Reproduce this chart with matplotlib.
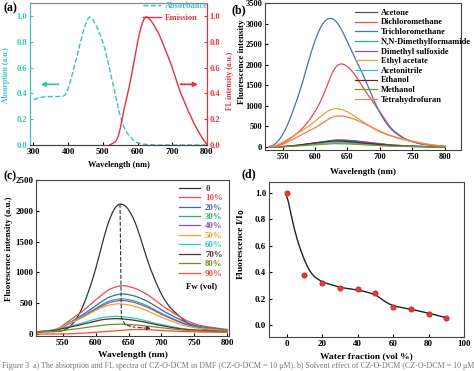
import numpy as np
import matplotlib.pyplot as plt

# ---- panel (a): absorption / emission (normalised) ----
abs_wl = [300, 310, 320, 340, 360, 380, 390, 400, 410, 420, 430, 440, 450, 460, 470, 480, 490,
          500, 510, 520, 530, 540, 550, 560, 570, 580, 590, 600, 620, 650, 700, 800]
abs_val = [0.35, 0.36, 0.37, 0.375, 0.375, 0.375, 0.38, 0.43, 0.53, 0.63, 0.74, 0.85, 0.94, 1.0, 0.98,
           0.93, 0.87, 0.8, 0.7, 0.58, 0.46, 0.34, 0.22, 0.14, 0.09, 0.06, 0.03, 0.015, 0.005, 0.0, 0.0, 0.0]
em_wl = [520, 540, 550, 560, 570, 580, 590, 600, 610, 620, 625, 640, 660, 680, 700, 720, 740, 760, 780, 800]
em_val = [0.0, 0.03, 0.12, 0.27, 0.38, 0.5, 0.65, 0.8, 0.92, 0.99, 1.0, 0.96, 0.87, 0.74, 0.6, 0.43,
          0.3, 0.18, 0.08, 0.0]

# ---- panel (b): solvent effect ----
wl_b = [530, 540, 550, 560, 570, 580, 590, 600, 610, 620, 630, 640, 650, 660, 670, 680, 690, 700,
        710, 720, 740, 760, 780, 800]
tcm = [0, 60, 280, 600, 1050, 1500, 2100, 2600, 2980, 3150, 3120, 2900, 2550, 2200, 1900, 1550,
       1150, 820, 560, 380, 170, 80, 35, 15]
dcm = [0, 20, 80, 180, 300, 430, 620, 850, 1130, 1550, 1950, 2050, 1970, 1800, 1550, 1300, 1080,
       870, 600, 400, 180, 85, 40, 15]
ea = [0, 20, 120, 200, 300, 400, 500, 620, 760, 880, 943, 920, 860, 760, 650, 550, 450, 360,
      300, 260, 180, 110, 50, 20]
thf = [0, 15, 50, 140, 220, 300, 380, 460, 560, 680, 750, 760, 730, 680, 610, 540, 460, 380,
       310, 250, 160, 100, 45, 15]
# shape of the weak emitters (normalised), plus their peak heights / positions
small_off = [-90, -80, -70, -60, -50, -40, -30, -20, -10, 0, 10, 20, 30, 40, 50, 60, 70, 90, 110, 130, 150, 170]
small_prof = [0.0, 0.05, 0.12, 0.22, 0.35, 0.48, 0.62, 0.75, 0.9, 1.0, 0.98, 0.93, 0.84, 0.73,
              0.62, 0.5, 0.4, 0.24, 0.13, 0.07, 0.03, 0.01]
small_names = ["Acetone", "N,N-Dimethylformamide", "Dimethyl sulfoxide", "Acetonitrile", "Ethanol", "Methanol"]
small_peak = [170, 120, 165, 105, 145, 80]
small_pos = [635, 630, 632, 625, 628, 628]

# ---- panel (c): water fraction series ----
wl_c0 = [510, 530, 540, 550, 560, 570, 580, 590, 600, 610, 620, 630, 637, 645, 650, 660, 670, 680,
         690, 700, 710, 720, 740, 760, 780, 800]
fw0 = [40, 40, 42, 50, 110, 230, 430, 715, 1050, 1480, 1850, 2080, 2125, 2090, 2030, 1830, 1500,
       1150, 880, 640, 470, 360, 170, 90, 50, 30]
c_off = [-130, -100, -80, -60, -40, -20, 0, 20, 40, 60, 80, 100, 120, 160]
c_prof = [0.0, 0.05, 0.25, 0.45, 0.7, 0.92, 1.0, 0.93, 0.78, 0.56, 0.38, 0.22, 0.13, 0.05]
fw_labels = ["10%", "20%", "30%", "40%", "50%", "60%", "70%", "80%"]
fw_peak = [797, 661, 580, 553, 499, 293, 255, 163]
fw_pos = [641, 641, 639, 639, 635, 630, 630, 636]
c_base = 35
wl_90 = [510, 560, 580, 600, 620, 640, 660, 680, 700, 720, 740, 760, 800]
fw90 = [0, 5, 15, 30, 48, 65, 76, 72, 60, 48, 40, 35, 28]

# ---- panel (d): I/I0 vs water fraction ----
water = [0, 10, 20, 30, 40, 50, 60, 70, 80, 90]
ratio = [1.0, 0.375, 0.32, 0.28, 0.27, 0.24, 0.14, 0.12, 0.085, 0.055]
fit_x = [0, 2, 4, 6, 8, 10, 12, 15, 20, 30, 40, 45, 50, 55, 60, 70, 80, 90]
fit_y = [1.0, 0.86, 0.74, 0.64, 0.56, 0.49, 0.43, 0.37, 0.325, 0.285, 0.265, 0.25, 0.23, 0.18,
         0.145, 0.12, 0.09, 0.055]

plt.rcParams['font.family'] = ['Liberation Serif', 'DejaVu Serif']
plt.rcParams['font.weight'] = 'bold'
plt.rcParams['axes.labelweight'] = 'bold'
plt.rcParams['font.size'] = 6.5
plt.rcParams['xtick.direction'] = 'in'
plt.rcParams['ytick.direction'] = 'in'
plt.rcParams['xtick.major.size'] = 2.5
plt.rcParams['ytick.major.size'] = 2.5
plt.rcParams['xtick.major.pad'] = 2
plt.rcParams['ytick.major.pad'] = 2
plt.rcParams['axes.linewidth'] = 0.8
plt.rcParams['axes.edgecolor'] = '#444444'

W, H = 474, 371
fig = plt.figure(figsize=(W / 100, H / 100), dpi=100)


def box(l, t, r, b):
    return [l / W, 1 - b / H, (r - l) / W, (b - t) / H]


def smooth(x, y, step=1.0, win=9):
    # resample the read points and round off the corners a little
    xs = np.arange(x[0], x[-1] + step / 2, step)
    ys = np.interp(xs, x, y)
    k = np.ones(win) / win
    for _ in range(2):
        pad = np.concatenate([np.full(win // 2, ys[0]), ys, np.full(win // 2, ys[-1])])
        ys = np.convolve(pad, k, mode='valid')
    return xs, ys


CY = '#3cc0c4'
RD = '#e8303a'

# ---------------- (a) ----------------
ax = fig.add_axes(box(30, 3, 207, 145))
ax.plot(*smooth(abs_wl, abs_val, 1, 9), '--', color=CY, lw=1.0, label='Absorbance')
ax.set_xlim(290, 800)
ax.set_ylim(0, 1.1)
ax.set_yticks(np.arange(0, 1.01, 0.2))
ax.set_yticklabels(['%.1f' % v for v in np.arange(0, 1.01, 0.2)])
ax.set_xticks([300, 400, 500, 600, 700, 800])
ax.tick_params(axis='y', colors=CY, labelcolor=CY, labelsize=6)
ax.tick_params(axis='x', labelsize=6.5)
ax.spines['left'].set_color(CY)
ax.spines['top'].set_color('#888888')
ax.set_ylabel('Absorption (a.u.)', color=CY, fontsize=5.5)
ax.yaxis.set_label_coords(-0.115, 0.49)
ax.set_xlabel('Wavelength (nm)', labelpad=4, fontsize=6)
ax.annotate('', xy=(313, 0.47), xytext=(380, 0.47),
            arrowprops=dict(arrowstyle='-|>', color=CY, lw=1.3, mutation_scale=6))
ax2 = ax.twinx()
ax2.plot(*smooth(em_wl, em_val, 1, 9), '-', color=RD, lw=1.0, label='Emission')
ax2.set_ylim(0, 1.1)
ax2.set_yticks(np.arange(0, 1.01, 0.2))
ax2.set_yticklabels(['%.1f' % v for v in np.arange(0, 1.01, 0.2)])
ax2.tick_params(axis='y', colors=RD, labelcolor=RD, direction='in', labelsize=6)
ax2.spines['right'].set_color(RD)
ax2.spines['left'].set_color(CY)
ax2.spines['top'].set_color('#888888')
ax2.set_ylabel('FL intensity (a.u.)', color=RD, fontsize=5.5)
ax2.yaxis.set_label_coords(1.11, 0.45)
ax2.annotate('', xy=(782, 0.47), xytext=(716, 0.47),
             arrowprops=dict(arrowstyle='-|>', color=RD, lw=1.3, mutation_scale=6))
h1, l1 = ax.get_legend_handles_labels()
h2, l2 = ax2.get_legend_handles_labels()
leg = ax2.legend(h1 + h2, l1 + l2, loc='upper right', bbox_to_anchor=(1.03, 1.04), frameon=False,
                 fontsize=6, handlelength=2.2, labelspacing=0.45, borderpad=0.1, handletextpad=0.4)
for t, c in zip(leg.get_texts(), [CY, RD]):
    t.set_color(c)
fig.text(4 / W, 1 - 8 / H, '(a)', fontsize=8.5, va='center', ha='left')

# ---------------- (b) ----------------
bx = fig.add_axes(box(265, 3, 461, 150))
b_colors = {"Acetone": '#555555', "Dichloromethane": '#e84a50', "Trichloromethane": '#4a70b8',
            "N,N-Dimethylformamide": '#2fae7a', "Dimethyl sulfoxide": '#9050b8', "Ethyl acetate": '#e2a535',
            "Acetonitrile": '#30c4c8', "Ethanol": '#5a2a2a', "Methanol": '#7a9a20', "Tetrahydrofuran": '#f08050'}
order = ["Acetone", "Dichloromethane", "Trichloromethane", "N,N-Dimethylformamide", "Dimethyl sulfoxide",
         "Ethyl acetate", "Acetonitrile", "Ethanol", "Methanol", "Tetrahydrofuran"]
big = {"Dichloromethane": dcm, "Trichloromethane": tcm, "Ethyl acetate": ea, "Tetrahydrofuran": thf}
wl_fine = np.arange(530, 801, 2)
for name in order:
    if name in big:
        bx.plot(*smooth(wl_b, big[name], 1, 11), color=b_colors[name], lw=0.9, label=name)
    else:
        i = small_names.index(name)
        y = small_peak[i] * np.interp(wl_fine - small_pos[i], small_off, small_prof)
        bx.plot(*smooth(wl_fine, y, 1, 9), color=b_colors[name], lw=0.9, label=name)
bx.set_xlim(523, 825)
bx.set_ylim(-75, 3500)
bx.set_xticks([550, 600, 650, 700, 750, 800])
bx.set_yticks(range(0, 3501, 500))
bx.tick_params(labelsize=6)
bx.set_ylabel('Fluorescence intensity', fontsize=6.5)
bx.yaxis.set_label_coords(-0.095, 0.6)
bx.set_xlabel('Wavelength (nm)', labelpad=5, fontsize=6.5)
bx.legend(loc='upper right', bbox_to_anchor=(1.08, 1.0), frameon=False, fontsize=6,
          handlelength=2.6, labelspacing=0.2, borderpad=0.2, handletextpad=0.5)
fig.text(232 / W, 1 - 10 / H, '(b)', fontsize=8.5, va='center', ha='left')

# ---------------- (c) ----------------
cx = fig.add_axes(box(36, 180, 229, 336))
c_colors = ['#e84a50', '#3a68b0', '#30b070', '#9050b8', '#e8a535', '#30c8c8', '#5a2a3a', '#7a8a20']
cx.plot(*smooth(wl_c0, fw0, 1, 9), color='#333333', lw=0.9, label='0')
wl_fine = np.arange(510, 801, 2)
for lab, h, p, c in zip(fw_labels, fw_peak, fw_pos, c_colors):
    y = c_base + (h - c_base) * np.interp(wl_fine - p, c_off, c_prof)
    cx.plot(*smooth(wl_fine, y, 1, 11), color=c, lw=0.9, label=lab)
cx.plot(*smooth(wl_90, fw90, 1, 11), color='#f05030', lw=0.9, label='90%')
cx.plot([637, 639, 645, 660], [2110, 270, 150, 110], '--', color='#333333', lw=0.8)
cx.annotate('', xy=(688, 90), xytext=(660, 110),
            arrowprops=dict(arrowstyle='-|>', color='#333333', lw=0.8, ls='--', mutation_scale=5))
cx.set_xlim(509, 803)
cx.set_ylim(-30, 2500)
cx.set_xticks([550, 600, 650, 700, 750, 800])
cx.set_yticks(range(0, 2501, 500))
cx.tick_params(labelsize=6.5)
cx.set_ylabel('Fluorescence intensity (a.u.)', fontsize=6.3)
cx.yaxis.set_label_coords(-0.12, 0.56)
cx.set_xlabel('Wavelength (nm)', labelpad=3, fontsize=6.8)
leg = cx.legend(loc='upper right', bbox_to_anchor=(1.0, 1.01), frameon=False, fontsize=6.3,
                handlelength=2.4, labelspacing=0.15, borderpad=0.2, handletextpad=0.6)
for t, line in zip(leg.get_texts(), leg.get_lines()):
    t.set_color(line.get_color())
cx.text(0.86, 0.32, 'Fw (vol)', transform=cx.transAxes, fontsize=6.3, ha='center', va='center')
fig.text(4 / W, 1 - 176 / H, '(c)', fontsize=8.5, va='center', ha='left')

# ---------------- (d) ----------------
dx = fig.add_axes(box(269, 182, 464, 337))
dx.plot(*smooth(fit_x, fit_y, 0.25, 9), color='#222222', lw=1.0)
dx.plot(water, ratio, 'o', color='#e83838', ms=3.8, mec='#c02020', mew=0.5)
dx.set_xlim(-10, 100)
dx.set_ylim(-0.09, 1.08)
dx.set_xticks(range(0, 101, 20))
dx.set_yticks(np.arange(0, 1.01, 0.2))
dx.set_yticklabels(['%.1f' % v for v in np.arange(0, 1.01, 0.2)])
dx.tick_params(labelsize=6.5)
dx.set_ylabel('Fluorescence I/I$_\\mathbf{0}$', fontsize=6.8)
dx.yaxis.set_label_coords(-0.115, 0.6)
dx.set_xlabel('Water fraction (vol %)', labelpad=3, fontsize=6.8)
fig.text(242 / W, 1 - 174 / H, '(d)', fontsize=8.5, va='center', ha='left')

# caption, cut off at the bottom edge as in the source image
fig.text(2 / W, 9 / H, 'Figure 3  a) The absorption and FL spectra of CZ-O-DCM in DMF (CZ-O-DCM = 10 \u03bcM). '
         'b) Solvent effect of CZ-O-DCM (CZ-O-DCM = 10 \u03bcM) in d',
         fontsize=5.8, color='#777777', fontweight='normal', va='top', ha='left')

fig.savefig('out.png', dpi=100)
